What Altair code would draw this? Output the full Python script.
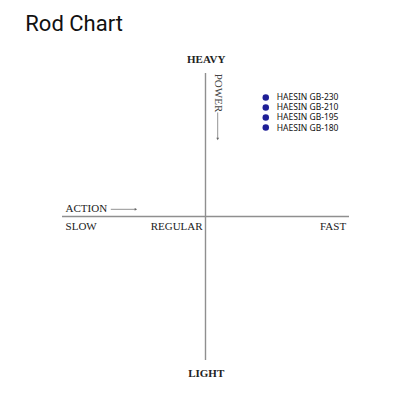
import altair as alt
import pandas as pd

# ---- data (chart units: x -100 SLOW .. 100 FAST, y -100 LIGHT .. 100 HEAVY)
rods = ["HAESIN GB-230", "HAESIN GB-210", "HAESIN GB-195", "HAESIN GB-180"]
rod_action = [42, 42, 42, 42]
rod_power = [83, 76, 69, 62]

axis_lines = pd.DataFrame({
    "x": [-100, 0], "x2": [100, 0],
    "y": [0, 100], "y2": [0, -100],
})

center_labels = ["HEAVY", "LIGHT"]
center_x = [0.5, 0.5]
center_y = [109, -110]

left_labels = ["ACTION", "SLOW"]
left_x = [-97.5, -97.5]
left_y = [5, -7]

right_labels = ["REGULAR", "FAST"]
right_x = [-2, 98]
right_y = [-7, -7]

power_label = ["POWER"]
power_x = [8.5]
power_y = [99.5]

arrows = pd.DataFrame({
    "x": [-66, 8.5], "x2": [-48.5, 8.5],
    "y": [5, 72.5], "y2": [5, 54],
})
heads = pd.DataFrame({"x": [-48.5, 8.5], "y": [5, 54], "shape": ["triangle-right", "triangle-down"]})

rod_df = pd.DataFrame({"name": rods, "x": rod_action, "y": rod_power})

X = alt.Scale(domain=[-100, 100], nice=False, zero=False)
Y = alt.Scale(domain=[-100, 100], nice=False, zero=False)
SERIF = "Liberation Serif"

lines = alt.Chart(axis_lines).mark_rule(color="#8f8f8f", strokeWidth=1.4).encode(
    x=alt.X("x:Q", scale=X, axis=None), x2="x2:Q",
    y=alt.Y("y:Q", scale=Y, axis=None), y2="y2:Q",
)

arrow_lines = alt.Chart(arrows).mark_rule(color="#777777", strokeWidth=0.8).encode(
    x=alt.X("x:Q", scale=X), x2="x2:Q", y=alt.Y("y:Q", scale=Y), y2="y2:Q"
)
arrow_heads = alt.Chart(heads).mark_point(filled=True, color="#666666", size=8, opacity=1).encode(
    x=alt.X("x:Q", scale=X), y=alt.Y("y:Q", scale=Y),
    shape=alt.Shape("shape:N", scale=None, legend=None),
)

def text_layer(labels, xs, ys, align, **kw):
    df = pd.DataFrame({"t": labels, "x": xs, "y": ys})
    style = dict(align=align, baseline="middle", font=SERIF, fontSize=11, color="#222222")
    style.update(kw)
    return alt.Chart(df).mark_text(**style).encode(
        x=alt.X("x:Q", scale=X), y=alt.Y("y:Q", scale=Y), text="t:N"
    )

center_text = text_layer(center_labels, center_x, center_y, "center", fontWeight="bold", fontSize=11)
left_text = text_layer(left_labels, left_x, left_y, "left")
right_text = text_layer(right_labels, right_x, right_y, "right")
power_text = text_layer(power_label, power_x, power_y, "left", angle=90, color="#444444")

rod_points = alt.Chart(rod_df).mark_circle(size=42, color="#1f1f96", opacity=1).encode(
    x=alt.X("x:Q", scale=X), y=alt.Y("y:Q", scale=Y),
)
rod_text = alt.Chart(rod_df).mark_text(
    align="left", baseline="middle", dx=11, font="Noto Sans", fontSize=8.5, color="#111111"
).encode(x=alt.X("x:Q", scale=X), y=alt.Y("y:Q", scale=Y), text="name:N")

chart = alt.layer(
    lines, arrow_lines, arrow_heads, center_text, left_text, right_text, power_text,
    rod_points, rod_text,
).properties(
    width=287, height=287,
    background="white",
    title=alt.TitleParams(
        "Rod Chart", anchor="start", dx=-36, offset=18, font="Roboto",
        fontSize=22, fontWeight="normal", color="#111111",
    ),
    autosize=alt.AutoSizeParams(type="none"),
    padding={"left": 54, "top": 65, "right": 54, "bottom": 40},
).configure_view(strokeWidth=0, stroke="transparent")

chart.save("out.html", embed_options={"renderer": "svg", "actions": False})
